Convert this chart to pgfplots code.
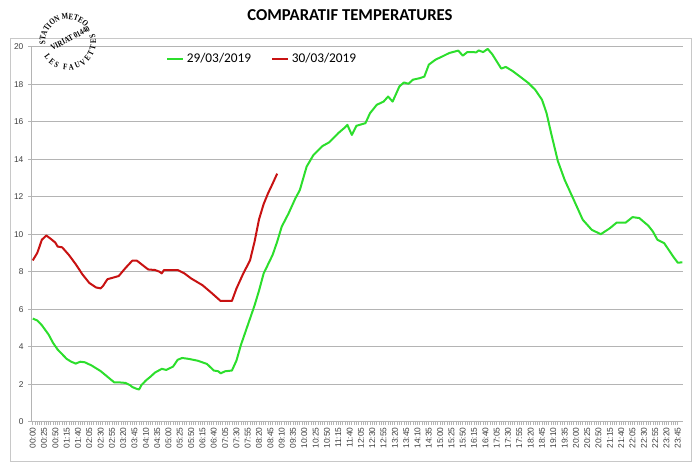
\documentclass[border=0pt]{standalone}
\usepackage{fontspec}
\setmainfont{Carlito}
\newfontfamily\tickfont{Liberation Sans}
\newfontfamily\stampfont[FakeStretch=0.8]{Liberation Serif}
\usepackage{pgfplots}
\pgfplotsset{compat=1.18}
\usetikzlibrary{decorations.text}

\definecolor{vert}{RGB}{44,222,44}
\definecolor{rouge}{RGB}{200,18,18}
\definecolor{grille}{RGB}{180,180,180}
\definecolor{cadre}{RGB}{200,200,200}
\newcommand\stampfmt{\stampfont\bfseries\fontsize{6.4}{7}\selectfont}

% minutes depuis 00:00, temperature en degres C
\pgfplotstableread{
min  t
0    5.50
10   5.40
20   5.15
35   4.65
45   4.20
55   3.85
65   3.60
75   3.35
85   3.20
95   3.10
105  3.20
115  3.17
130  3.00
140  2.85
150  2.70
165  2.40
180  2.10
190  2.10
205  2.07
215  1.95
220  1.85
230  1.75
235  1.72
240  1.95
250  2.20
260  2.40
270  2.62
285  2.82
295  2.76
310  2.94
320  3.30
330  3.40
345  3.35
365  3.25
385  3.08
400  2.73
410  2.69
415  2.58
425  2.69
440  2.73
450  3.26
460  4.10
470  4.80
480  5.50
490  6.20
500  7.00
510  7.90
520  8.40
530  8.90
540  9.60
550  10.40
565  11.10
580  11.90
590  12.35
605  13.60
620  14.22
640  14.70
655  14.90
675  15.39
690  15.70
695  15.83
705  15.29
715  15.78
735  15.92
745  16.45
760  16.90
775  17.07
785  17.34
795  17.07
810  17.88
820  18.09
830  18.02
840  18.24
855  18.32
865  18.40
875  19.04
890  19.31
905  19.48
920  19.66
940  19.79
950  19.52
960  19.71
980  19.70
985  19.80
995  19.71
1005 19.88
1015 19.60
1035 18.83
1045 18.92
1060 18.70
1075 18.43
1095 18.06
1110 17.70
1125 17.17
1135 16.46
1145 15.40
1160 13.90
1175 12.90
1195 11.84
1215 10.77
1235 10.23
1255 10.00
1275 10.32
1290 10.62
1310 10.62
1325 10.91
1340 10.86
1360 10.45
1370 10.14
1380 9.70
1395 9.52
1400 9.34
1415 8.80
1425 8.48
1435 8.50
}\jourA

\pgfplotstableread{
min  t
0    8.60
10   9.00
15   9.34
20   9.70
30   9.93
40   9.75
50   9.55
55   9.34
65   9.30
80   8.89
95   8.40
110  7.85
125  7.40
140  7.16
150  7.11
155  7.23
165  7.60
180  7.70
190  7.77
205  8.20
220  8.59
230  8.59
255  8.12
270  8.09
280  8.00
285  7.91
290  8.09
320  8.09
335  7.91
350  7.64
375  7.28
395  6.87
415  6.44
440  6.44
450  7.10
465  7.90
480  8.60
490  9.60
500  10.80
510  11.60
520  12.19
530  12.70
540  13.23
}\jourB

\begin{document}
\begin{tikzpicture}
\path[use as bounding box] (0,0) rectangle (525pt,352.5pt);
\draw[cadre, line width=0.75pt] (7.9pt,6.4pt) rectangle (518.6pt,323.8pt);
\node[font=\bfseries\fontsize{12.5}{14}\selectfont] at (262.5pt,341pt) {COMPARATIF TEMPERATURES};

\begin{axis}[
  at={(23.7pt,36.2pt)}, anchor=south west, scale only axis,
  width=488.9pt, height=281.3pt,
  xmin=-2.5, xmax=1437.5, ymin=0, ymax=20,
  axis x line*=bottom, axis y line*=left,
  axis line style={grille, line width=0.75pt},
  ytick={0,2,...,20},
  ymajorgrids, grid style={grille, line width=0.75pt},
  xtick={0,25,...,1425}, minor x tick num=4,
  xticklabels={00:00,00:25,00:50,01:15,01:40,02:05,02:30,02:55,03:20,03:45,04:10,04:35,05:00,05:25,05:50,06:15,06:40,07:05,07:30,07:55,08:20,08:45,09:10,09:35,10:00,10:25,10:50,11:15,11:40,12:05,12:30,12:55,13:20,13:45,14:10,14:35,15:00,15:25,15:50,16:15,16:40,17:05,17:30,17:55,18:20,18:45,19:10,19:35,20:00,20:25,20:50,21:15,21:40,22:05,22:30,22:55,23:20,23:45},
  tick align=outside, major tick length=2.6pt, minor tick length=2.2pt,
  tick style={grille, line width=0.6pt},
  xticklabel style={rotate=90, anchor=east, font=\tickfont\fontsize{6.3}{7}\selectfont, text=black!75, inner sep=1.5pt},
  yticklabel style={font=\tickfont\fontsize{6.3}{7}\selectfont, text=black!75},
  /pgf/number format/assume math mode=true,
  legend style={draw=none, fill=none, at={(0.206,0.967)}, anchor=west, legend columns=2,
    font=\fontsize{10}{12}\selectfont, inner sep=0pt,
    /tikz/every even column/.append style={column sep=13pt}},
  legend image code/.code={\draw[#1] (0pt,0pt) -- (12pt,0pt);},
  every axis plot/.append style={line width=1.5pt, line join=round},
]
\addplot[vert, no markers] table[x=min, y=t] {\jourA};
\addlegendentry{29/03/2019}
\addplot[rouge, no markers] table[x=min, y=t] {\jourB};
\addlegendentry{30/03/2019}
\end{axis}

% tampon de la station
\path[decorate, decoration={text along path, text={|\stampfmt|STATION METEO}, text align=center}]
  ([shift={(234:17pt)}]51pt,321pt) arc[start angle=234, end angle=-6, radius=17pt];
\path[decorate, decoration={text along path, text={|\stampfmt|LES FAUVETTES}, text align=fit to path}]
  ([shift={(212:21pt)}]51pt,321pt) arc[start angle=212, end angle=378, radius=21pt];
\node[rotate=28, font=\stampfmt, inner sep=0pt] at (52.7pt,323.8pt) {VIRIAT 01440};
\end{tikzpicture}
\end{document}
